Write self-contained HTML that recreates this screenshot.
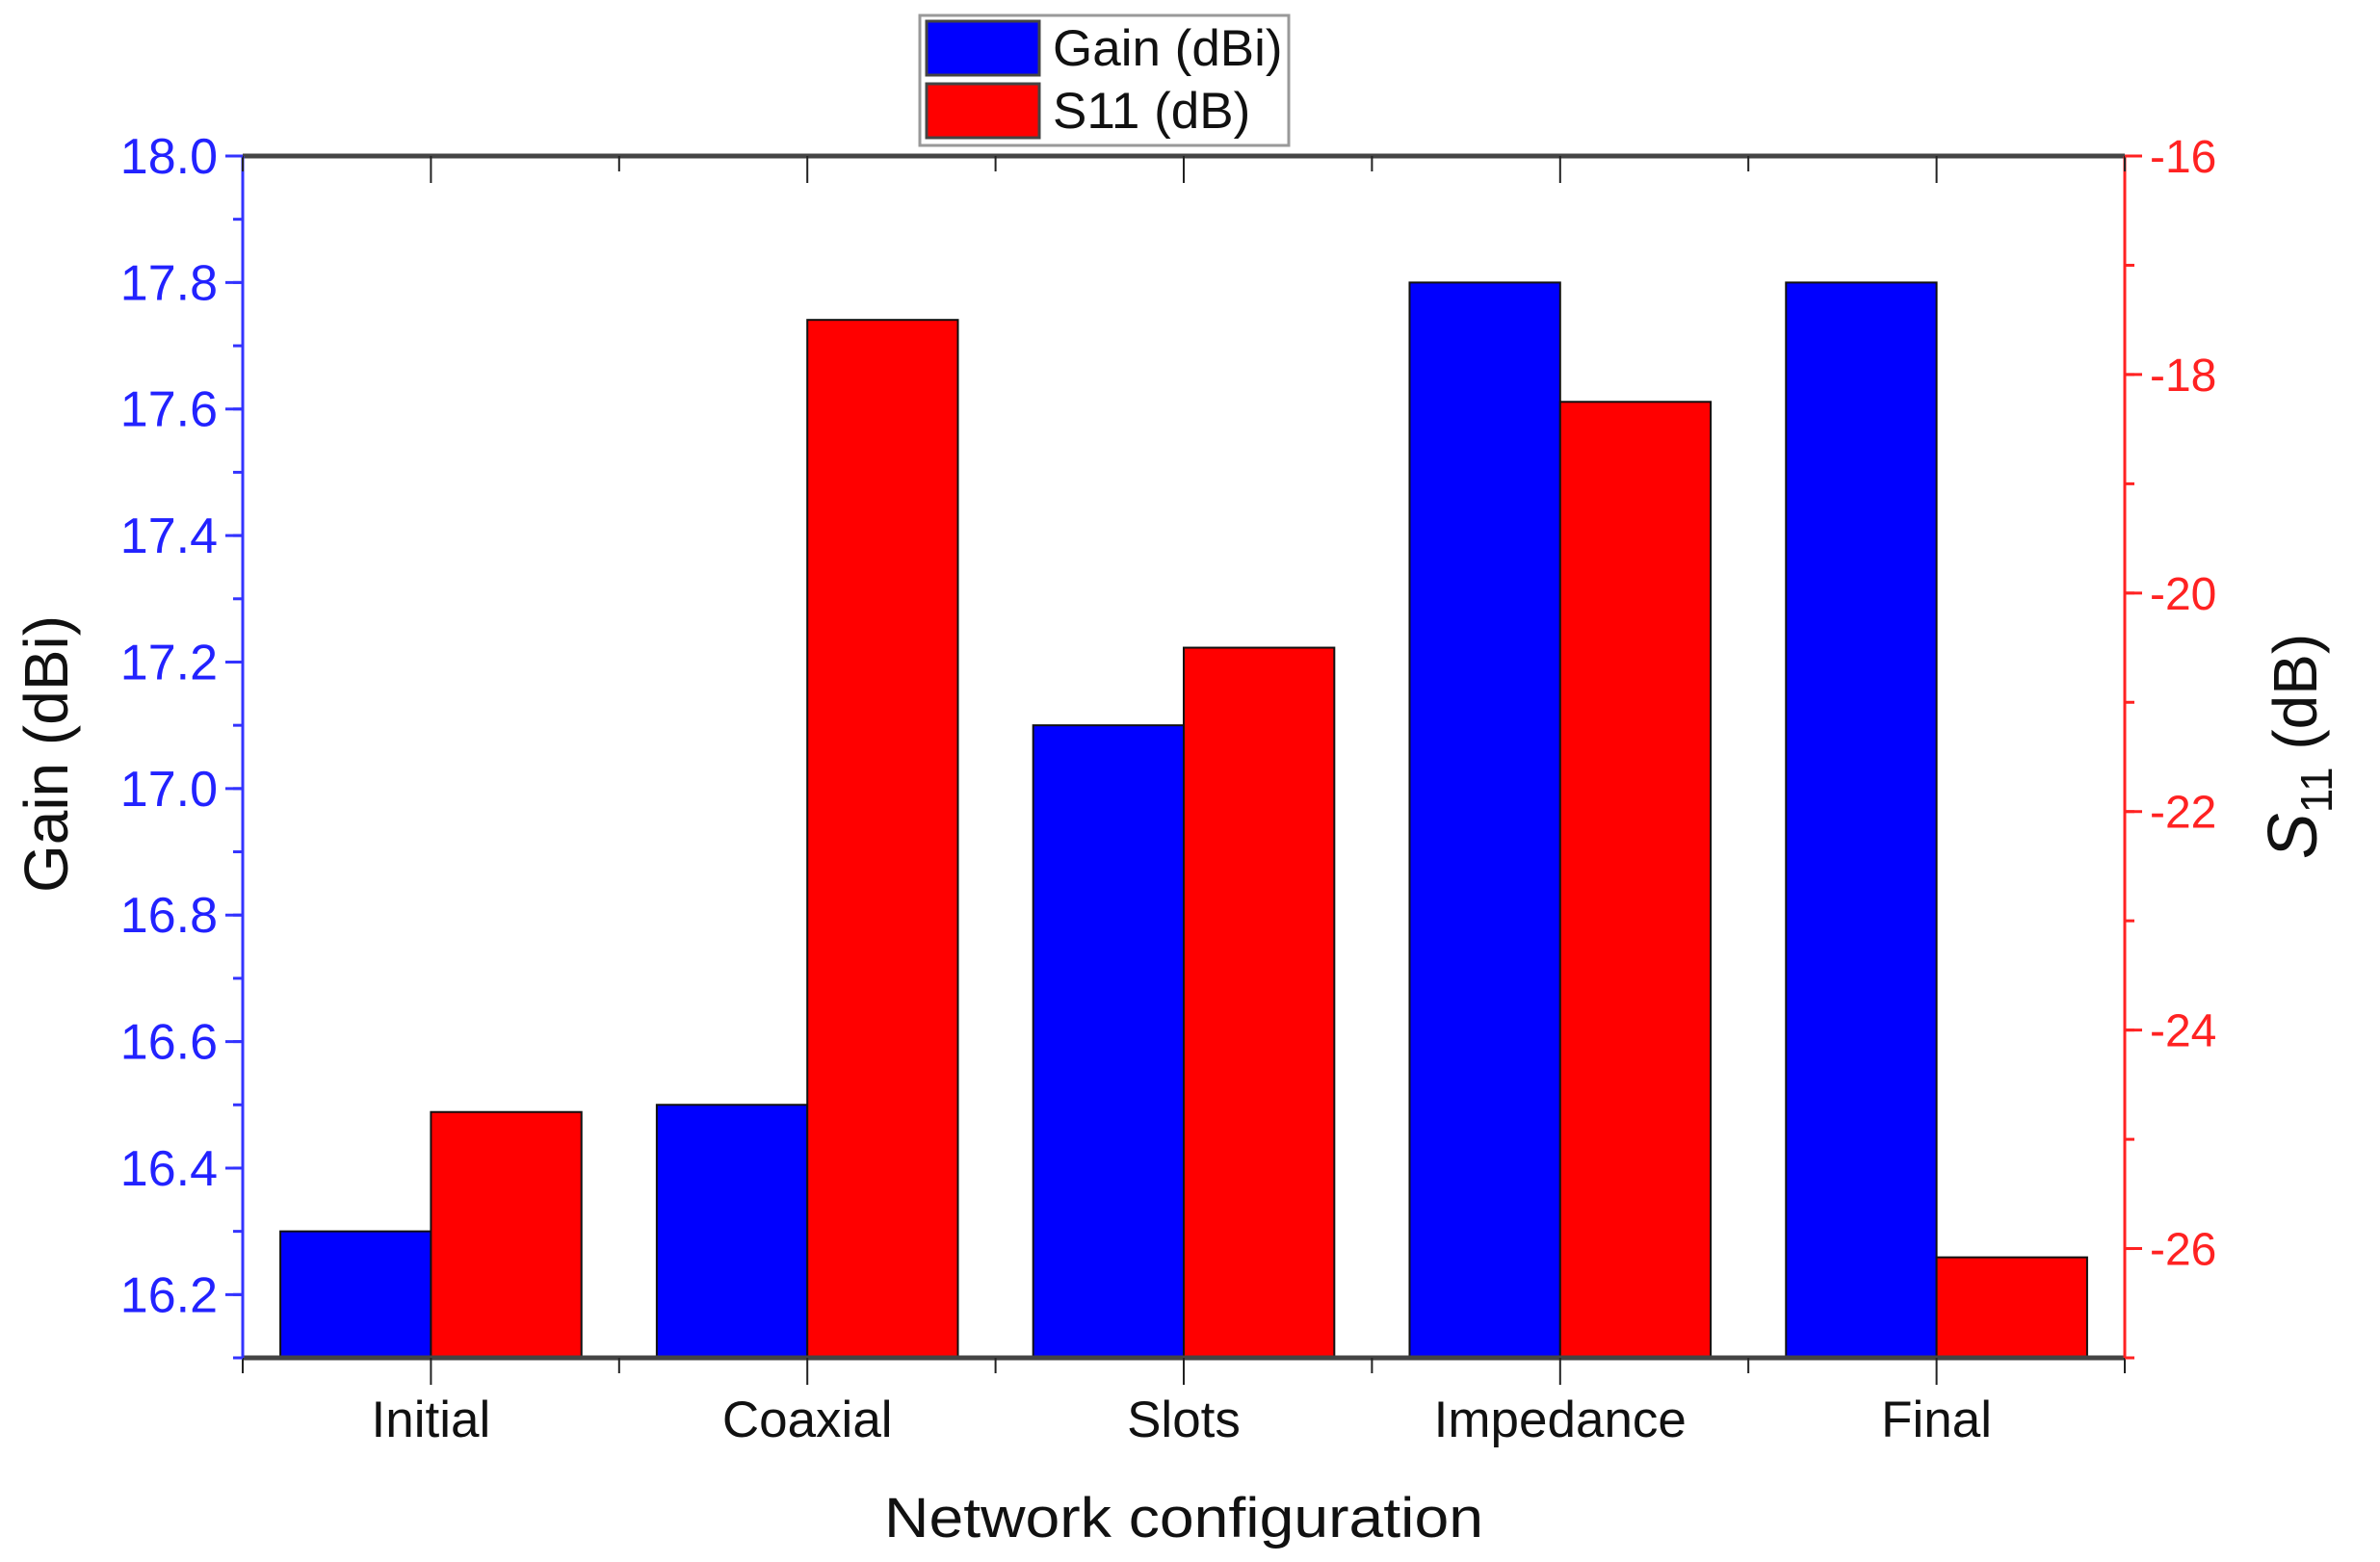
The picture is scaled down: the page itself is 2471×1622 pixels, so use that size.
<!DOCTYPE html>
<html><head><meta charset="utf-8"><style>
html,body{margin:0;padding:0;background:#fff;}
svg{display:block;font-family:"Liberation Sans",Arial,sans-serif;}
</style></head><body>
<svg id="chart" width="2471" height="1622" viewBox="0 0 2471 1622" xmlns="http://www.w3.org/2000/svg"></svg>
<script>
const categories = ["Initial","Coaxial","Slots","Impedance","Final"];
const gainValues = [16.3,16.5,17.1,17.8,17.8];
const s11Values = [-24.75,-17.5,-20.5,-18.25,-26.08];
const gainTicks = [16.2,16.4,16.6,16.8,17.0,17.2,17.4,17.6,17.8,18.0];
const s11Ticks = [-26,-24,-22,-20,-18,-16];

const svg = document.getElementById('chart');
const NS = 'http://www.w3.org/2000/svg';
const L=252, R=2206, T=162, B=1410;
const gMin=16.1, gMax=18.0, sMin=-27, sMax=-16;
const yG = v => B - (v-gMin)/(gMax-gMin)*(B-T);
const yS = v => B - (v-sMin)/(sMax-sMin)*(B-T);
const groupW = (R-L)/categories.length;
const xC = i => L + groupW*(i+0.5);
const barW = groupW*0.4;

function mk(tag, attrs, text){
  const e=document.createElementNS(NS,tag);
  for(const k in attrs) e.setAttribute(k,attrs[k]);
  if(text!==undefined) e.textContent=text;
  svg.appendChild(e); return e;
}

categories.forEach((c,i)=>{
  const yb=yG(gainValues[i]);
  const b=mk('rect',{x:xC(i)-barW,y:yb,width:barW,height:B-yb,fill:'#0000ff',stroke:'#111','stroke-width':2});
  
  
  const ys=yS(s11Values[i]);
  const r=mk('rect',{x:xC(i),y:ys,width:barW,height:B-ys,fill:'#ff0000',stroke:'#111','stroke-width':2});
  
  
});

let a;
a=mk('line',{x1:L,y1:T,x2:R,y2:T,stroke:'#444','stroke-width':5});
 
a=mk('line',{x1:L,y1:B,x2:R,y2:B,stroke:'#444','stroke-width':5});
 
a=mk('line',{x1:L,y1:T,x2:L,y2:B,stroke:'#3333ff','stroke-width':3});
 
a=mk('line',{x1:R,y1:T,x2:R,y2:B,stroke:'#ff2222','stroke-width':3});
 

for(let i=0;i<=categories.length;i++){
  const x=L+groupW*i;
  mk('line',{x1:x,y1:B,x2:x,y2:B+16,stroke:'#222','stroke-width':2});
  mk('line',{x1:x,y1:T,x2:x,y2:T+16,stroke:'#222','stroke-width':2});
}
categories.forEach((c,i)=>{
  mk('line',{x1:xC(i),y1:B,x2:xC(i),y2:B+28,stroke:'#222','stroke-width':2});
  mk('line',{x1:xC(i),y1:T,x2:xC(i),y2:T+28,stroke:'#222','stroke-width':2});
  const t=mk('text',{x:xC(i),y:1492,'text-anchor':'middle','font-size':53,fill:'#111'},c);
  
  
});

for(let v=16.1; v<=18.001; v+=0.1){
  mk('line',{x1:L-10,y1:yG(v),x2:L,y2:yG(v),stroke:'#3333ff','stroke-width':3});
}
gainTicks.forEach(v=>{
  mk('line',{x1:L-18,y1:yG(v),x2:L,y2:yG(v),stroke:'#3333ff','stroke-width':3});
  const t=mk('text',{x:L-26,y:yG(v)+18,'text-anchor':'end','font-size':52,fill:'#2222ff'},v.toFixed(1));
  
  
});
for(let v=-27; v<=-16; v+=1){
  mk('line',{x1:R,y1:yS(v),x2:R+10,y2:yS(v),stroke:'#ff2222','stroke-width':3});
}
s11Ticks.forEach(v=>{
  mk('line',{x1:R,y1:yS(v),x2:R+18,y2:yS(v),stroke:'#ff2222','stroke-width':3});
  const t=mk('text',{x:R+26,y:yS(v)+17,'text-anchor':'start','font-size':48,fill:'#ff2222'},String(v));
  
  
});

let t=mk('text',{x:1229,y:1596,'text-anchor':'middle','font-size':58,fill:'#111',textLength:622,lengthAdjust:'spacingAndGlyphs'},'Network configuration');
 
t=mk('text',{x:0,y:0,'text-anchor':'middle','font-size':64,fill:'#111',transform:'translate(70,783) rotate(-90)'},'Gain (dBi)');
 
t=mk('text',{x:0,y:0,'text-anchor':'middle','font-size':64,fill:'#111',transform:'translate(2405,775) rotate(-90)'});
 
t.innerHTML='<tspan font-style="italic" font-size="72">S</tspan><tspan font-size="46" dy="16">11</tspan><tspan dy="-16"> (dB)</tspan>';

const lg=mk('rect',{x:955,y:16,width:383,height:135,fill:'#fff',stroke:'#999','stroke-width':3});
 
let s=mk('rect',{x:962,y:22,width:117,height:56,fill:'#0000ff',stroke:'#444','stroke-width':3});
 
s=mk('rect',{x:962,y:87,width:117,height:56,fill:'#ff0000',stroke:'#444','stroke-width':3});
 
t=mk('text',{x:1093,y:68,'font-size':53,fill:'#111'},'Gain (dBi)');
 
t=mk('text',{x:1093,y:133,'font-size':53,fill:'#111'},'S11 (dB)');
 
</script>
</body></html>
